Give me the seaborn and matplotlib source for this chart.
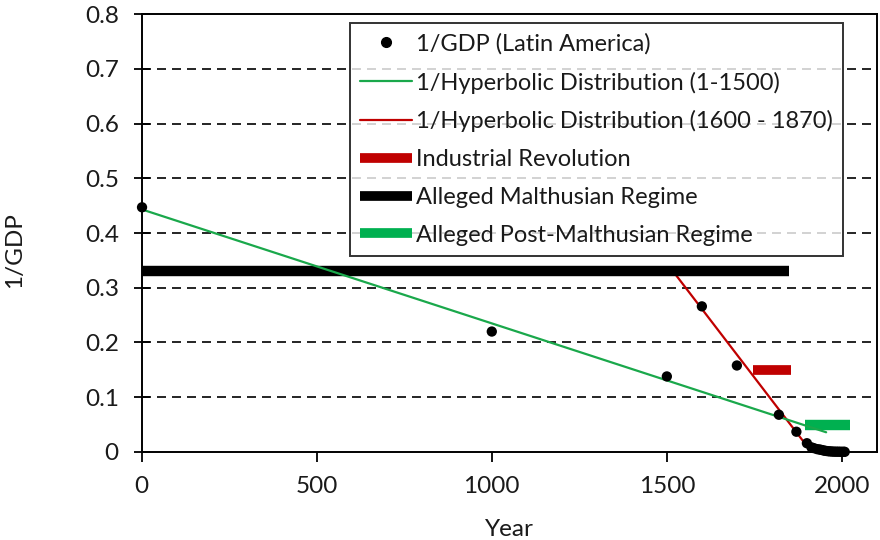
import matplotlib
matplotlib.use("Agg")
import matplotlib.pyplot as plt
import seaborn as sns
import pandas as pd
from matplotlib.lines import Line2D

# ---- data ----
years = [1, 1000, 1500, 1600, 1700, 1820, 1870, 1900, 1913, 1920, 1929, 1935,
         1940, 1945, 1950, 1955, 1960, 1965, 1970, 1975, 1980, 1985, 1990,
         1995, 2000, 2005, 2008]
inv_gdp = [0.447, 0.220, 0.138, 0.266, 0.158, 0.068, 0.037, 0.016, 0.0085,
           0.0070, 0.0052, 0.0046, 0.0040, 0.0032, 0.0024, 0.0019, 0.0014,
           0.0012, 0.0009, 0.0007, 0.00055, 0.00054, 0.0005, 0.00042,
           0.00037, 0.00033, 0.00029]

hyp1_years = [1, 1955]
hyp1_vals = [0.443, 0.036]

hyp2_years = [1525, 1913]
hyp2_vals = [0.324, 0.0]

ind_rev_years = [1745, 1855]
ind_rev_vals = [0.15, 0.15]

malthus_years = [0, 1850]
malthus_vals = [0.33, 0.33]

post_malthus_years = [1895, 2022]
post_malthus_vals = [0.05, 0.05]

xticks = [0, 500, 1000, 1500, 2000]
yticks = [0, 0.1, 0.2, 0.3, 0.4, 0.5, 0.6, 0.7, 0.8]
ytick_labels = ["0", "0.1", "0.2", "0.3", "0.4", "0.5", "0.6", "0.7", "0.8"]

labels = ["1/GDP (Latin America)",
          "1/Hyperbolic Distribution (1-1500)",
          "1/Hyperbolic Distribution (1600 - 1870)",
          "Industrial Revolution",
          "Alleged Malthusian Regime",
          "Alleged Post-Malthusian Regime"]

GREEN_LINE = "#1aa84b"
GREEN_BAR = "#00b050"
RED = "#c00000"
TXT = "#1a1a1a"

sns.set_style("white")
plt.rcParams["font.family"] = ["Lato", "DejaVu Sans"]

fig = plt.figure(figsize=(8.8, 5.4), dpi=100)
ax = fig.add_axes([0.161, 0.163, 0.8355, 0.811])

# grid lines
for yv in yticks[1:-1]:
    ax.axhline(yv, color="black", lw=1.2, ls=(0, (5.4, 3.6)), zorder=0)

df_pts = pd.DataFrame({"Year": years, "v": inv_gdp})
df_h1 = pd.DataFrame({"Year": hyp1_years, "v": hyp1_vals})
df_h2 = pd.DataFrame({"Year": hyp2_years, "v": hyp2_vals})
df_ir = pd.DataFrame({"Year": ind_rev_years, "v": ind_rev_vals})
df_m = pd.DataFrame({"Year": malthus_years, "v": malthus_vals})
df_pm = pd.DataFrame({"Year": post_malthus_years, "v": post_malthus_vals})

sns.lineplot(data=df_h2, x="Year", y="v", ax=ax, color=RED, lw=1.6, zorder=2)
sns.lineplot(data=df_m, x="Year", y="v", ax=ax, color="black", lw=7.5,
             solid_capstyle="butt", zorder=3)
sns.lineplot(data=df_h1, x="Year", y="v", ax=ax, color=GREEN_LINE, lw=1.6, zorder=4)
sns.lineplot(data=df_ir, x="Year", y="v", ax=ax, color=RED, lw=7,
             solid_capstyle="butt", zorder=3)
sns.lineplot(data=df_pm, x="Year", y="v", ax=ax, color=GREEN_BAR, lw=7.5,
             solid_capstyle="butt", zorder=3)
sns.scatterplot(data=df_pts, x="Year", y="v", ax=ax, color="black", s=55,
                edgecolor="none", zorder=5, clip_on=False)

ax.set_xlim(0, 2100)
ax.set_ylim(0, 0.8)
ax.set_xticks(xticks)
ax.set_xticklabels([str(t) for t in xticks])
ax.set_yticks(yticks)
ax.set_yticklabels(ytick_labels)
ax.tick_params(axis="x", direction="out", length=7, width=1.3, colors="black",
               labelsize=17.5, labelcolor=TXT, pad=10, bottom=True)
ax.tick_params(axis="y", direction="inout", length=11, width=1.3, colors="black",
               labelsize=17.5, labelcolor=TXT, pad=11, left=True)
for s in ax.spines.values():
    s.set_color("black")
    s.set_linewidth(1.4)
    s.set_visible(True)

ax.set_xlabel("Year", fontsize=17.5, color=TXT, va="center")
ax.set_ylabel("1/GDP", fontsize=17.5, color=TXT, va="center")
ax.xaxis.set_label_coords(0.5, -0.178)
ax.yaxis.set_label_coords(-0.173, 0.461)

handles = [
    Line2D([], [], ls="none", marker="o", color="black", markersize=7),
    Line2D([], [], color=GREEN_LINE, lw=1.6),
    Line2D([], [], color=RED, lw=1.6),
    Line2D([], [], color=RED, lw=7, solid_capstyle="butt"),
    Line2D([], [], color="black", lw=7, solid_capstyle="butt"),
    Line2D([], [], color=GREEN_BAR, lw=7, solid_capstyle="butt"),
]
leg = ax.legend(handles, labels, loc="upper right", bbox_to_anchor=(0.954, 0.979),
                fontsize=17, frameon=True, fancybox=False, handlelength=2.2,
                handletextpad=0.2, labelspacing=0.71, borderpad=0.42,
                borderaxespad=0)
leg.get_frame().set_edgecolor("black")
leg.get_frame().set_linewidth(1.4)
for t in leg.get_texts():
    t.set_color(TXT)
leg.set_zorder(10)

fig.savefig("out.png", dpi=100)
